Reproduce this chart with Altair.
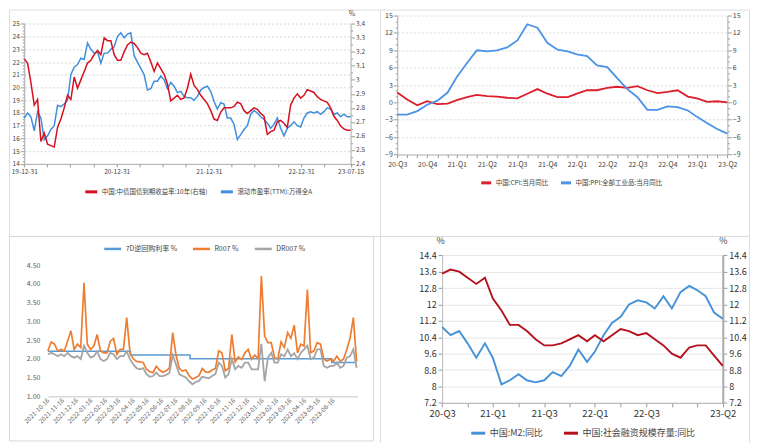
import json
import pandas as pd
import altair as alt

FONT = "Noto Sans CJK SC"

def dt(s):
    y, m, d = (int(p) for p in s.split("-"))
    return alt.DateTime(year=y, month=m, date=d)

# ---------------- data: top-left (PE vs 10y yield) ----------------
tl_start, tl_end = "2019-12-31", "2023-07-15"
tl_names = ["中国:中债国债到期收益率:10年(右轴)", "滚动市盈率(TTM):万得全A"]
yld_vals = [3.15, 3.12, 2.98, 2.82, 2.86, 2.56, 2.62, 2.54, 2.53, 2.52,
            2.66, 2.72, 2.80, 2.89, 2.86, 3.02, 2.94, 3.00, 3.06, 3.12,
            3.14, 3.18, 3.21, 3.18, 3.30, 3.28, 3.28, 3.18, 3.14, 3.14,
            3.20, 3.25, 3.27, 3.26, 3.23, 3.19, 3.18, 3.19, 3.13, 3.06,
            3.12, 3.08, 3.04, 2.97, 2.85, 2.87, 2.89, 2.86, 2.87, 2.94,
            3.04, 2.96, 2.93, 2.89, 2.86, 2.83, 2.78, 2.72, 2.71, 2.77,
            2.80, 2.80, 2.80, 2.81, 2.84, 2.83, 2.78, 2.76, 2.78, 2.80,
            2.79, 2.76, 2.74, 2.61, 2.63, 2.64, 2.70, 2.71, 2.69, 2.66,
            2.82, 2.87, 2.90, 2.87, 2.89, 2.93, 2.92, 2.91, 2.88, 2.86,
            2.85, 2.84, 2.80, 2.74, 2.71, 2.67, 2.65, 2.64, 2.64]
pe_vals = [17.6, 18.0, 17.7, 16.6, 18.1, 17.6, 15.9, 16.2, 16.7, 17.0,
           18.6, 18.5, 18.7, 19.0, 21.0, 21.6, 21.8, 22.3, 22.2, 23.5,
           23.0, 22.7, 22.8, 21.9, 22.7, 22.7, 23.0, 23.2, 24.0, 24.3,
           23.9, 24.2, 24.3, 22.5, 22.0, 21.5, 21.0, 19.8, 19.9, 20.5,
           20.5, 20.9, 20.6, 19.9, 20.4, 20.1, 19.6, 19.7, 19.3, 19.2,
           19.2, 19.0, 19.3, 19.8, 20.0, 20.1, 19.7, 18.9, 18.3, 18.8,
           18.7, 17.6, 17.6, 17.1, 15.9, 16.3, 16.7, 17.0, 17.9, 18.2,
           18.0, 17.7, 17.5, 17.2, 16.8, 17.1, 17.6, 16.8, 16.2, 16.8,
           17.0, 17.3, 17.0, 16.9, 17.6, 18.0, 18.1, 18.0, 18.1, 17.9,
           18.1, 18.4, 18.3, 17.9, 18.0, 17.7, 17.9, 17.7, 17.7]
tl_tick_dates = ["2019-12-31", "2020-03-31", "2020-06-30", "2020-09-30", "2020-12-31",
                 "2021-03-31", "2021-06-30", "2021-09-30", "2021-12-31", "2022-03-31",
                 "2022-06-30", "2022-09-30", "2022-12-31", "2023-03-31", "2023-07-15"]
tl_label_dates = ["2019-12-31", "2020-12-31", "2021-12-31", "2022-12-31", "2023-07-15"]
tl_labels = ["19-12-31", "20-12-31", "21-12-31", "22-12-31", "23-07-15"]

# ---------------- data: top-right (CPI / PPI) ----------------
tr_months = pd.date_range("2020-09-01", "2023-06-01", freq="MS")
tr_names = ["中国:CPI:当月同比", "中国:PPI:全部工业品:当月同比"]
cpi_vals = [1.7, 0.5, -0.5, 0.2, -0.3, -0.2, 0.4, 0.9, 1.3, 1.1, 1.0, 0.8,
            0.7, 1.5, 2.3, 1.5, 0.9, 0.9, 1.5, 2.1, 2.1, 2.5, 2.7, 2.5,
            2.8, 2.1, 1.6, 1.8, 2.1, 1.0, 0.7, 0.1, 0.2, 0.0]
ppi_vals = [-2.1, -2.1, -1.5, -0.4, 0.3, 1.7, 4.4, 6.8, 9.0, 8.8, 9.0, 9.5,
            10.7, 13.5, 12.9, 10.3, 9.1, 8.8, 8.3, 8.0, 6.4, 6.1, 4.2, 2.3,
            0.9, -1.3, -1.3, -0.7, -0.8, -1.4, -2.5, -3.6, -4.6, -5.4]
tr_label_months = ["2020-09", "2020-12", "2021-03", "2021-06", "2021-09", "2021-12",
                   "2022-03", "2022-06", "2022-09", "2022-12", "2023-03", "2023-06"]
tr_labels = ["20-Q3", "20-Q4", "21-Q1", "21-Q2", "21-Q3", "21-Q4",
             "22-Q1", "22-Q2", "22-Q3", "22-Q4", "23-Q1", "23-Q2"]

# ---------------- data: bottom-left (money market rates) ----------------
bl_names = ["7D逆回购利率 %", "R007 %", "DR007 %"]
r007_vals = [2.21, 2.45, 2.39, 2.21, 2.25, 2.21, 2.47, 2.75, 2.25, 2.39,
             2.30, 4.03, 2.39, 2.25, 2.34, 2.65, 2.21, 2.16, 2.16, 2.47,
             2.54, 2.12, 2.25, 2.25, 3.10, 2.16, 2.00, 1.93, 1.92, 1.90,
             1.72, 1.66, 1.63, 1.80, 1.70, 1.64, 1.68, 1.75, 2.70, 2.10,
             1.74, 1.67, 1.70, 1.55, 1.46, 1.50, 1.55, 1.74, 1.65, 1.64,
             1.70, 1.74, 2.21, 2.16, 1.68, 1.74, 2.65, 1.92, 2.05, 1.98,
             2.16, 2.25, 1.99, 2.10, 2.00, 4.21, 2.60, 2.43, 2.43, 2.03,
             2.00, 2.45, 2.30, 2.70, 2.55, 2.90, 2.16, 2.39, 2.34, 3.85,
             2.16, 2.21, 2.43, 2.39, 1.99, 1.94, 1.99, 1.94, 2.07, 1.94,
             1.99, 2.25, 2.55, 3.10, 1.92]
dr007_vals = [2.12, 2.16, 2.12, 2.07, 2.12, 2.07, 2.16, 2.07, 2.03, 2.07,
              1.99, 2.35, 2.16, 2.03, 2.07, 2.20, 1.99, 1.94, 1.99, 2.16,
              2.12, 1.99, 2.07, 2.07, 2.20, 1.99, 1.85, 1.75, 1.72, 1.75,
              1.59, 1.52, 1.54, 1.63, 1.54, 1.54, 1.57, 1.62, 2.10, 1.85,
              1.59, 1.54, 1.50, 1.40, 1.32, 1.38, 1.41, 1.52, 1.50, 1.48,
              1.54, 1.59, 1.90, 1.81, 1.50, 1.59, 2.00, 1.72, 1.81, 1.76,
              1.90, 1.90, 1.72, 1.72, 1.72, 2.40, 1.40, 2.03, 2.16, 1.90,
              1.90, 2.12, 2.07, 2.25, 2.07, 2.15, 1.99, 2.16, 2.25, 2.35,
              1.99, 2.03, 2.25, 2.25, 1.81, 1.76, 1.81, 1.81, 1.90, 1.76,
              1.81, 2.03, 2.07, 2.25, 1.76]
bl_dates = pd.date_range("2021-10-16", periods=len(r007_vals), freq="7D")
rr_dates = ["2021-10-16", "2022-04-10", "2022-08-15", "2023-06-13", "2023-08-04"]
rr_vals = [2.2, 2.1, 2.0, 1.9, 1.9]
bl_tick_dates = ["2021-10-16", "2021-11-16", "2021-12-16", "2022-01-16", "2022-02-16",
                 "2022-03-16", "2022-04-16", "2022-05-16", "2022-06-16", "2022-07-16",
                 "2022-08-16", "2022-09-16", "2022-10-16", "2022-11-16", "2022-12-16",
                 "2023-01-16", "2023-02-16", "2023-03-16", "2023-04-16", "2023-05-16",
                 "2023-06-16"]
bl_y_ticks = [1.0, 1.5, 2.0, 2.5, 3.0, 3.5, 4.0, 4.5]

# ---------------- data: bottom-right (M2 / TSF) ----------------
br_months = pd.date_range("2020-09-01", "2023-06-01", freq="MS")
br_names = ["中国:M2:同比", "中国:社会融资规模存量:同比"]
m2_vals = [10.9, 10.5, 10.7, 10.1, 9.4, 10.1, 9.4, 8.1, 8.3, 8.6, 8.3, 8.2,
           8.3, 8.7, 8.5, 9.0, 9.8, 9.2, 9.7, 10.5, 11.1, 11.4, 12.0, 12.2,
           12.1, 11.8, 12.4, 11.8, 12.6, 12.9, 12.7, 12.4, 11.6, 11.3]
tsf_vals = [13.5, 13.7, 13.6, 13.3, 13.0, 13.3, 12.3, 11.7, 11.0, 11.0, 10.7, 10.3,
            10.0, 10.0, 10.1, 10.3, 10.5, 10.2, 10.5, 10.2, 10.5, 10.8, 10.7, 10.5,
            10.6, 10.3, 10.0, 9.6, 9.4, 9.9, 10.0, 10.0, 9.5, 9.0]
br_tick_months = ["2020-09", "2020-12", "2021-03", "2021-06", "2021-09", "2021-12",
                  "2022-03", "2022-06", "2022-09", "2022-12", "2023-03", "2023-06"]
br_label_months = ["2020-09", "2021-03", "2021-09", "2022-03", "2022-09", "2023-06"]
br_labels = ["20-Q3", "21-Q1", "21-Q3", "22-Q1", "22-Q3", "23-Q2"]
br_y_ticks = [7.2, 8, 8.8, 9.6, 10.4, 11.2, 12, 12.8, 13.6, 14.4]

# ---------------- layout constants ----------------
TOP_H = 227
TL_W, TR_W = 372, 370
BL_W, BL_H = 365, 205
BR_W, BR_H = 370, 208

def lookup_expr(keys, labels, fmt):
    return (f"{json.dumps(labels)}[indexof({json.dumps(keys)}, "
            f"timeFormat(datum.value, '{fmt}'))] || ''")

def cond(test, a, b):
    return {"condition": {"test": test, "value": a}, "value": b}

def legend(x, y, size, sym, sw=3, pad=6):
    return alt.Legend(orient="none", legendX=x, legendY=y, direction="horizontal",
                      title=None, symbolType="stroke", symbolStrokeWidth=sw,
                      symbolSize=sym, labelFontSize=size, labelFont=FONT,
                      labelColor="#444", columnPadding=pad, labelOffset=3, padding=0)

def series(name):
    return {"series": json.dumps(name)}

common_axis = dict(labelFont=FONT, labelOverlap=False, labelFlush=False, title=None)

# ================= TOP LEFT =================
df_tl = pd.DataFrame({"date": pd.date_range(tl_start, tl_end, periods=len(pe_vals)),
                      "pe": pe_vals, "yld": yld_vals})
TL_RED, TL_BLUE = "#d7101f", "#3f8fdb"
tl_color = alt.Scale(domain=tl_names, range=[TL_RED, TL_BLUE])
tl_leg = legend(75, 175, 6.5, 144)
tl_x = alt.X("date:T",
             scale=alt.Scale(domain=[dt(tl_start), dt(tl_end)], range=[15.3, 342.5], nice=False),
             axis=alt.Axis(orient="bottom", offset=154.7 - TOP_H,
                           values=[dt(s) for s in tl_tick_dates],
                           labelExpr=lookup_expr(tl_label_dates, tl_labels, "%Y-%m-%d"),
                           tickSize=3, tickColor="#999", domainColor="#aaa",
                           labelFontSize=6.5, labelColor="#444", labelPadding=2,
                           grid=False, **common_axis))
tl_left_ticks = [14 + 0.25 * i for i in range(45)]
tl_right_ticks = [round(2.4 + 0.05 * i, 2) for i in range(21)]
tl_pe = alt.Chart(df_tl).mark_line(strokeWidth=1.5).transform_calculate(**series(tl_names[1])).encode(
    x=tl_x,
    y=alt.Y("pe:Q", scale=alt.Scale(domain=[14, 25], range=[154.7, 14.3], nice=False, zero=False),
            axis=alt.Axis(orient="left", offset=-15.3, values=tl_left_ticks,
                          labelExpr="datum.value % 1 == 0 ? format(datum.value, 'd') : ''",
                          tickSize=cond("datum.value % 1 == 0", 4, 2),
                          tickColor="#999", domainColor="#aaa", labelFontSize=6.5,
                          labelColor="#444", labelPadding=1, grid=True,
                          gridColor="#d6d6d6", gridDash=[2, 2],
                          gridOpacity=cond("datum.value % 1 == 0 && datum.value > 14", 1, 0),
                          **common_axis)),
    color=alt.Color("series:N", scale=tl_color, legend=tl_leg),
)
tl_y = alt.Chart(df_tl).mark_line(strokeWidth=1.5).transform_calculate(**series(tl_names[0])).encode(
    x=tl_x,
    y=alt.Y("yld:Q", scale=alt.Scale(domain=[2.4, 3.4], range=[154.7, 14.3], nice=False, zero=False),
            axis=alt.Axis(orient="right", offset=342.5 - TL_W, values=tl_right_ticks,
                          labelExpr="abs(datum.value * 10 - round(datum.value * 10)) < 0.001 ? format(datum.value, '.2~r') : ''",
                          tickSize=cond("abs(datum.value * 10 - round(datum.value * 10)) < 0.001", 4, 2),
                          tickColor="#999", domainColor="#aaa", labelFontSize=6.5,
                          labelColor="#444", labelPadding=1, grid=False,
                          labelFont=FONT, labelOverlap=False, labelFlush=False,
                          title="%", titleAngle=0, titleX=1, titleY=0, titleBaseline="top",
                          titleAlign="center", titleFontSize=7, titleFontWeight="normal",
                          titleColor="#444", titleFont=FONT)),
    color=alt.Color("series:N", scale=tl_color, legend=tl_leg),
)
tl = alt.layer(tl_pe, tl_y).resolve_scale(y="independent").properties(width=TL_W, height=TOP_H)

# ================= TOP RIGHT =================
df_tr = pd.DataFrame({"month": tr_months, "cpi": cpi_vals, "ppi": ppi_vals})
TR_RED, TR_BLUE = "#dc1f2b", "#4b93e6"
tr_color = alt.Scale(domain=tr_names, range=[TR_RED, TR_BLUE])
tr_leg = legend(100, 167, 6.5, 100)
tr_x = alt.X("month:T",
             scale=alt.Scale(domain=[dt("2020-09-01"), dt("2023-06-01")], range=[17.3, 348.3], nice=False),
             axis=alt.Axis(orient="bottom", offset=145.3 - TOP_H,
                           values=[dt(d.strftime("%Y-%m-%d")) for d in tr_months],
                           labelExpr=lookup_expr(tr_label_months, tr_labels, "%Y-%m"),
                           tickSize=3, tickColor="#999", domainColor="#aaa",
                           labelFontSize=7, labelColor="#444", labelPadding=3,
                           grid=False, **common_axis))
tr_ticks = list(range(-9, 16))
tr_scale = dict(domain=[-9, 15], range=[145.3, 6.0], nice=False, zero=False)
tr_axis_common = dict(values=tr_ticks,
                      labelExpr="datum.value % 3 == 0 ? format(datum.value, 'd') : ''",
                      tickSize=cond("datum.value % 3 == 0", 4, 2),
                      tickColor="#999", domainColor="#aaa", labelFontSize=7,
                      labelColor="#444", labelPadding=1, **common_axis)
tr_cpi = alt.Chart(df_tr).mark_line(strokeWidth=1.8).transform_calculate(**series(tr_names[0])).encode(
    x=tr_x,
    y=alt.Y("cpi:Q", scale=alt.Scale(**tr_scale),
            axis=alt.Axis(orient="left", offset=-17.3, grid=True, gridColor="#dadada",
                          gridDash=[2, 2],
                          gridOpacity=cond("datum.value % 3 == 0 && datum.value > -9", 1, 0),
                          **tr_axis_common)),
    color=alt.Color("series:N", scale=tr_color, legend=tr_leg),
)
tr_ppi = alt.Chart(df_tr).mark_line(strokeWidth=1.8).transform_calculate(**series(tr_names[1])).encode(
    x=tr_x,
    y=alt.Y("ppi:Q", scale=alt.Scale(**tr_scale),
            axis=alt.Axis(orient="right", offset=348.3 - TR_W, grid=False, **tr_axis_common)),
    color=alt.Color("series:N", scale=tr_color, legend=tr_leg),
)
tr = alt.layer(tr_cpi, tr_ppi).resolve_scale(y="independent").properties(width=TR_W, height=TOP_H)

# ================= BOTTOM LEFT =================
df_bl = pd.DataFrame({"date": bl_dates, "r007": r007_vals, "dr007": dr007_vals})
df_rr = pd.DataFrame({"date": pd.to_datetime(rr_dates), "rate": rr_vals})
bl_color = alt.Scale(domain=bl_names, range=["#5b9bd5", "#ed7d31", "#a5a5a5"])
bl_x = alt.X("date:T",
             scale=alt.Scale(domain=[dt("2021-10-16"), dt("2023-08-07")], range=[39, 349.5], nice=False),
             axis=alt.Axis(orient="bottom", offset=160.7 - BL_H,
                           values=[dt(s) for s in bl_tick_dates], format="%Y-%m-%d",
                           labelAngle=315, labelAlign="right", labelBaseline="middle",
                           ticks=False, domainColor="#d9d9d9", domainWidth=1.5,
                           labelFontSize=6.3, labelColor="#595959", labelPadding=3,
                           grid=False, **common_axis))
bl_yscale = alt.Scale(domain=[1, 4.5], range=[160.7, 29.3], nice=False, zero=False)
bl_yaxis = alt.Axis(orient="left", offset=-39, values=bl_y_ticks, format=".2f",
                    ticks=False, domain=False, grid=False, labelFontSize=7,
                    labelColor="#595959", labelPadding=8, **common_axis)
bl_leg = legend(94, 3, 7, 289, sw=2.5, pad=10)
bl_rr = alt.Chart(df_rr).mark_line(strokeWidth=1.6, interpolate="step-after").transform_calculate(
    **series(bl_names[0])).encode(
    x=bl_x, y=alt.Y("rate:Q", scale=bl_yscale, axis=bl_yaxis),
    color=alt.Color("series:N", scale=bl_color, legend=bl_leg))
bl_r = alt.Chart(df_bl).mark_line(strokeWidth=1.7).transform_calculate(**series(bl_names[1])).encode(
    x=bl_x, y=alt.Y("r007:Q", scale=bl_yscale, axis=bl_yaxis),
    color=alt.Color("series:N", scale=bl_color, legend=bl_leg))
bl_dr = alt.Chart(df_bl).mark_line(strokeWidth=1.8).transform_calculate(**series(bl_names[2])).encode(
    x=bl_x, y=alt.Y("dr007:Q", scale=bl_yscale, axis=bl_yaxis),
    color=alt.Color("series:N", scale=bl_color, legend=bl_leg))
bl = alt.layer(bl_rr, bl_r, bl_dr).properties(
    width=BL_W, height=BL_H, view=alt.ViewBackground(stroke="#d9d9d9", strokeWidth=1))

# ================= BOTTOM RIGHT =================
df_br = pd.DataFrame({"month": br_months, "m2": m2_vals, "tsf": tsf_vals})
BR_BLUE, BR_RED = "#4592d6", "#b5121d"
br_color = alt.Scale(domain=br_names, range=[BR_BLUE, BR_RED])
br_leg = legend(90, 189, 9, 196, sw=3, pad=14)
br_x = alt.X("month:T",
             scale=alt.Scale(domain=[dt("2020-09-01"), dt("2023-06-01")], range=[62.3, 343.7], nice=False),
             axis=alt.Axis(orient="bottom", offset=167.3 - BR_H,
                           values=[dt(m + "-01") for m in br_tick_months],
                           labelExpr=lookup_expr(br_label_months, br_labels, "%Y-%m"),
                           tickSize=4, tickColor="#999", domainColor="#aaa",
                           labelFontSize=9.5, labelColor="#333", labelPadding=2,
                           grid=False, **common_axis))
br_scale = dict(domain=[7.2, 14.4], range=[167.3, 19.3], nice=False, zero=False)
br_axis_common = dict(values=br_y_ticks, labelExpr="format(datum.value, '.3~r')",
                      tickSize=4, tickColor="#999", labelFontSize=9,
                      labelColor="#333", labelPadding=2, labelFont=FONT,
                      labelOverlap=False, labelFlush=False,
                      title="%", titleAngle=0, titleY=5, titleBaseline="middle",
                      titleAlign="center", titleFontSize=9, titleFontWeight="normal",
                      titleColor="#444", titleFont=FONT)
br_m2 = alt.Chart(df_br).mark_line(strokeWidth=1.9).transform_calculate(**series(br_names[0])).encode(
    x=br_x,
    y=alt.Y("m2:Q", scale=alt.Scale(**br_scale),
            axis=alt.Axis(orient="left", offset=-62.3, domainColor="#bbb", grid=True,
                          gridColor="#e6e6e6",
                          gridOpacity=cond("datum.value > 7.3", 1, 0),
                          titleX=-2, **br_axis_common)),
    color=alt.Color("series:N", scale=br_color, legend=br_leg),
)
br_tsf = alt.Chart(df_br).mark_line(strokeWidth=1.9).transform_calculate(**series(br_names[1])).encode(
    x=br_x,
    y=alt.Y("tsf:Q", scale=alt.Scale(**br_scale),
            axis=alt.Axis(orient="right", offset=343.7 - BR_W, domainColor="#aaa",
                          domainWidth=2, grid=False, titleX=0, **br_axis_common)),
    color=alt.Color("series:N", scale=br_color, legend=br_leg),
)
br = alt.layer(br_m2, br_tsf).resolve_scale(y="independent").properties(width=BR_W, height=BR_H)

chart = alt.concat(tl, tr, bl, br, columns=2, spacing=0, bounds="flush", align="each",
                   padding=0).resolve_scale(
    color="independent", x="independent", y="independent"
).configure_view(stroke=None).configure(font=FONT)

chart.save("out.html", embed_options={"renderer": "svg", "actions": False})
